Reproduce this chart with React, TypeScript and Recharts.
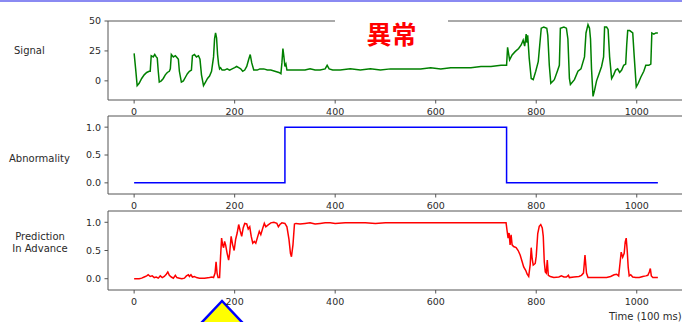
import React from 'react';
import { LineChart, Line, XAxis, YAxis, ReferenceLine } from 'recharts';

// ---- Signal (green) ----
const signalT = [0,3,6,10,15,20,25,30,32,34,38,41,44,46,48,50,54,58,62,66,70,72,74,78,82,86,88,90,94,98,102,106,110,114,116,120,124,128,131,134,138,142,146,150,154,158,160,162,164,166,168,170,172,175,180,185,190,195,200,204,208,212,216,220,224,228,231,234,238,245,250,258,265,272,280,288,292,294,296,298,300,302,304,310,320,330,340,350,360,370,380,384,388,395,410,430,450,470,490,510,530,550,570,590,610,630,650,670,690,710,730,738,741,743,747,752,758,765,770,774,777,780,781,783,786,790,794,799,804,807,810,815,821,823,826,829,836,842,846,848,855,860,863,866,868,876,883,889,896,899,903,906,908,910,913,916,920,925,930,934,936,940,943,946,950,954,958,962,966,970,974,978,980,982,986,992,995,999,1003,1008,1014,1018,1024,1028,1030,1034,1038,1042];
const signalV = [23,10,-4,-2,2,5,7,8,8,21,20,22,20,19,8,-1,0,2,5,7,8,10,22,20,21,19,18,8,-1,0,3,6,8,9,21,22,20,21,18,5,-4,-1,2,4,8,20,35,40,36,22,14,10,11,9,9,10,9,10,11,12,11,10,8,9,12,18,22,15,9,9,10,10,9,9,8,7,6,15,27,20,12,14,9,9,9,9,9,10,9,9,10,13,10,9,9,10,9,10,9,10,10,10,10,11,10,11,11,11,12,12,13,13,13,28,17.5,21.7,24.4,27,30,34,29,39,32,38,19,2,1,8,16,30,44,45,44,38,13,-2,1,8,13,44,45,44,35,2,-3,1,8,10,20,40,47,44,35,10,-13,-8,0,6,12,20,45,45,43,20,2,5,9,10,7,9,13,14,30,42,42,40,20,-5,-2,3,8,13,13,14,40,39,40,40];

// ---- Abnormality (blue, step) ----
const abnT = [0,300,741,1042];
const abnV = [0,1,0,0];

// ---- Prediction in advance (red) ----
const predT = [0,5,10,15,20,25,28,32,36,40,44,48,52,56,60,64,67,70,74,78,82,85,90,95,100,104,108,110,113,116,120,124,130,140,150,155,158,161,163,165,167,170,172,174,176,178,180,182,185,188,190,193,196,199,202,205,208,211,214,217,220,224,227,230,233,236,239,242,246,249,252,256,259,262,266,272,278,284,287,290,294,300,304,308,311,313,316,319,322,330,340,350,360,370,380,390,400,420,440,460,480,500,520,560,600,640,680,720,740,742,744,746,748,750,752,755,760,764,768,772,775,779,782,785,788,790,792,794,798,800,803,806,809,812,814,816,818,820,822,824,828,835,845,850,855,860,864,866,875,885,890,894,897,900,903,910,920,930,940,948,955,960,964,967,969,972,975,977,979,981,983,985,988,992,998,1005,1012,1018,1022,1025,1027,1029,1032,1038,1042];
const predV = [0,0,0,0.01,0.03,0.05,0.07,0.04,0.05,0.02,0.03,0.01,0.05,0.02,0.04,0.08,0.12,0.06,0.03,0.01,0.06,0.02,0.01,0,0.01,0.05,0.07,0.04,0.07,0.03,0.04,0.02,0.01,0.01,0.02,0.03,0.02,0.1,0.3,0.1,0.02,0.02,0.4,0.72,0.6,0.55,0.66,0.6,0.45,0.33,0.45,0.75,0.6,0.5,0.7,0.81,0.96,0.85,0.75,0.9,0.98,0.97,0.88,0.92,0.75,0.63,0.66,0.63,0.75,0.84,0.78,0.9,0.98,0.92,0.95,0.99,1,0.98,0.92,0.96,0.99,0.98,0.92,0.7,0.45,0.39,0.6,0.97,0.98,0.97,0.98,0.99,0.97,0.98,0.99,0.99,0.98,0.99,0.99,0.99,0.98,0.99,0.99,0.99,0.99,0.99,0.99,0.99,0.99,0.85,0.72,0.81,0.6,0.78,0.6,0.57,0.55,0.5,0.42,0.3,0.21,0.15,0.08,0.04,0.25,0.55,0.35,0.24,0.27,0.4,0.8,0.93,0.96,0.9,0.75,0.3,0.12,0.1,0.33,0.06,0.04,0.02,0.03,0.05,0.03,0.03,0.06,0.02,0.03,0.04,0.06,0.1,0.42,0.1,0.02,0.02,0.02,0.02,0.02,0.04,0.07,0.08,0.05,0.3,0.47,0.38,0.45,0.65,0.72,0.5,0.2,0.05,0.07,0.03,0.02,0.02,0.04,0.05,0.06,0.12,0.18,0.05,0.02,0.02,0.02];

const xTicks = [0, 200, 400, 600, 800, 1000];
const signalTicks = [0, 25, 50];
const probTicks = [0, 0.5, 1];

const signalData = signalT.map((t, i) => ({ t, v: signalV[i] }));
const abnData = abnT.map((t, i) => ({ t, v: abnV[i] }));
const predData = predT.map((t, i) => ({ t, v: predV[i] }));

const FONT = '"DejaVu Sans", sans-serif';
const AX = '#555';
const TXT = '#2a2a2a';

type PanelProps = {
  top: number;
  plotH: number;
  data: { t: number; v: number }[];
  color: string;
  yDomain: [number, number];
  yTicks: number[];
  fmt?: (v: number) => string;
  step?: boolean;
};

function Panel({ top, plotH, data, color, yDomain, yTicks, fmt, step }: PanelProps) {
  const h = 10 + plotH + 25;
  return (
    <div style={{ position: 'absolute', left: 0, top, width: 690, height: h }}>
      <LineChart width={690} height={h} data={data} margin={{ top: 10, right: 7, bottom: 0, left: 68 }}>
        <XAxis
          dataKey="t"
          type="number"
          domain={[-52, 1092]}
          ticks={xTicks}
          allowDataOverflow
          interval={0}
          height={25}
          tickSize={3.5}
          tickMargin={4.5}
          stroke={AX}
          tick={{ fill: TXT, fontSize: 9.5, fontFamily: FONT }}
        />
        <YAxis
          type="number"
          domain={yDomain}
          ticks={yTicks}
          allowDataOverflow
          interval={0}
          width={40}
          tickSize={3.5}
          tickMargin={3.5}
          stroke={AX}
          tickFormatter={fmt}
          tick={{ fill: TXT, fontSize: 9.5, fontFamily: FONT }}
        />
        <ReferenceLine y={yDomain[1]} stroke={AX} ifOverflow="extendDomain" />
        <Line
          dataKey="v"
          type={step ? 'stepAfter' : 'linear'}
          stroke={color}
          strokeWidth={1.5}
          dot={false}
          isAnimationActive={false}
        />
      </LineChart>
    </div>
  );
}

const labelStyle: React.CSSProperties = {
  position: 'absolute',
  fontFamily: FONT,
  fontSize: 10,
  lineHeight: '12px',
  color: TXT,
  whiteSpace: 'nowrap',
};

export default function App() {
  const f1 = (v: number) => v.toFixed(1);
  return (
    <div
      style={{
        position: 'fixed',
        left: 0,
        top: 0,
        width: 682,
        height: 322,
        overflow: 'hidden',
        background: '#fff',
      }}
    >
      <div style={{ position: 'absolute', left: 0, top: 0, width: 682, height: 2, background: '#8a8af2' }} />

      <Panel top={11} plotH={79} data={signalData} color="#008000" yDomain={[-16, 50]} yTicks={signalTicks} />
      <Panel top={106} plotH={78} data={abnData} color="#0000ff" yDomain={[-0.2, 1.2]} yTicks={probTicks} fmt={f1} step />

      <svg style={{ position: 'absolute', left: 0, top: 0 }} width={682} height={322}>
        <polygon points="222,301 188,337 256,337" fill="#ffff00" stroke="#0000ff" strokeWidth={2.5} />
      </svg>

      <Panel top={201} plotH={79} data={predData} color="#ff0000" yDomain={[-0.2, 1.2]} yTicks={probTicks} fmt={f1} />

      <div style={{ ...labelStyle, left: 14, top: 45 }}>Signal</div>
      <div style={{ ...labelStyle, left: 9, top: 153 }}>Abnormality</div>
      <div style={{ ...labelStyle, left: 0, width: 80, top: 231, lineHeight: '12.4px', textAlign: 'center' }}>
        Prediction
        <br />
        In Advance
      </div>
      <div style={{ ...labelStyle, left: 609, top: 311 }}>Time (100 ms)</div>

      <div
        style={{
          position: 'absolute',
          left: 335,
          top: 12,
          width: 113,
          height: 42,
          background: '#fff',
          display: 'flex',
          alignItems: 'center',
          justifyContent: 'center',
          fontFamily: '"Noto Sans CJK JP", sans-serif',
          fontWeight: 700,
          fontSize: 25,
          color: '#ff0000',
        }}
      >
        異常
      </div>
    </div>
  );
}
